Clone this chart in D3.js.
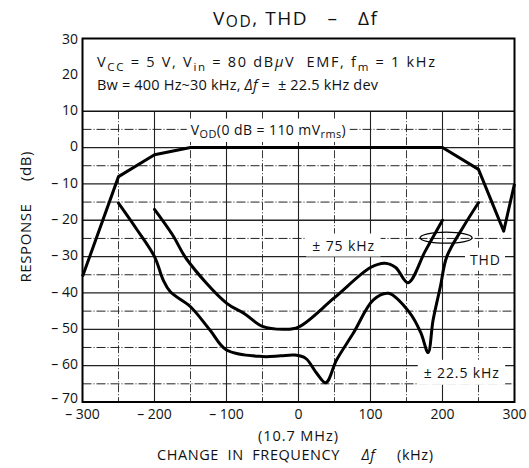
<!DOCTYPE html>
<html><head><meta charset="utf-8">
<script src="https://cdn.jsdelivr.net/npm/d3@7"></script>
<style>body{margin:0;background:#fff}svg{display:block}text{font-family:"Open Sans","Noto Sans",sans-serif;fill:#111}</style>
</head><body><div id="chart"></div>
<script>
// ---- data ----
const xTicks = [-300, -200, -100, 0, 100, 200, 300];
const yTicks = [30, 20, 10, 0, -10, -20, -30, -40, -50, -60, -70];
const vodX = [-300, -250, -200, -150, -100, 0, 100, 200, 250, 285, 300];
const vodY = [-35.5, -8, -2, 0, 0, 0, 0, 0, -6, -23, -10];
const thd75X = [-200, -175, -155, -100, -75, -50, -20, 0, 50, 100, 120, 135, 152, 176, 200];
const thd75Y = [-17, -24, -30.8, -42.8, -45.7, -49.2, -50, -49.4, -41.3, -33, -31.8, -33, -37.2, -28.5, -20];
const thd22X = [-250, -225, -200, -188, -178, -150, -123, -100, -50, -25, -5, 10, 25, 38, 53, 76, 104, 125, 155, 170, 180, 187, 197, 206, 229, 250];
const thd22Y = [-15.3, -22.4, -30, -36.4, -39.7, -43.8, -50.2, -55.7, -57.5, -57.3, -57.1, -58, -62, -64.7, -58.4, -51.1, -41.9, -40.1, -45.6, -51, -56.4, -47.4, -38.3, -30, -21.8, -15.2];

// ---- layout ----
const W = 529, H = 468;
const L = 82.5, R = 514.5, T = 38.5, B = 402;
const svg = d3.select("#chart").append("svg").attr("width", W).attr("height", H);
const x = d3.scaleLinear().domain([-300, 300]).range([L, R]);
const y = d3.scaleLinear().domain([-70, 30]).range([B, T]);

// grid
const g = svg.append("g");
d3.range(-250, 300, 50).forEach(v => {
  g.append("line").attr("x1", x(v)).attr("x2", x(v)).attr("y1", y(10)).attr("y2", y(-70))
    .attr("stroke", "#222").attr("stroke-width", v % 100 === 0 ? 1.1 : 0.9)
    .attr("stroke-dasharray", v % 100 === 0 ? null : "8,2,1,2");
});
d3.range(-65, 10, 5).forEach(v => {
  g.append("line").attr("x1", L).attr("x2", R).attr("y1", y(v)).attr("y2", y(v))
    .attr("stroke", "#222").attr("stroke-width", v % 10 === 0 ? 1.3 : 1)
    .attr("stroke-dasharray", v % 10 === 0 ? null : "9,2,1,2");
});
g.append("line").attr("x1", L).attr("x2", R).attr("y1", y(10)).attr("y2", y(10)).attr("stroke", "#111").attr("stroke-width", 1.6);

// annotation labels with white backgrounds
const ann = svg.append("g");
function label(parts, cx, cy, size, len) {
  const t = ann.append("text").attr("x", cx).attr("y", cy).attr("font-size", size)
    .attr("text-anchor", "middle").attr("dominant-baseline", "middle");
  if (len) t.attr("textLength", len).attr("lengthAdjust", "spacing");
  parts.forEach(p => {
    const ts = t.append("tspan").text(p.t);
    if (p.sub) ts.attr("font-size", size * 0.78).attr("dy", size * 0.3);
    if (p.up) ts.attr("dy", -size * 0.3);
  });
  return t;
}
function bg(t, px, py) {
  const b = t.node().getBBox();
  ann.insert("rect", "text").attr("x", b.x - px).attr("y", b.y - py)
    .attr("width", b.width + 2 * px).attr("height", b.height + 2 * py).attr("fill", "#fff");
}
const vodL = label([{t: "V"}, {t: "OD", sub: 1}, {t: "(0 dB = 110 mV", up: 1}, {t: "rms", sub: 1}, {t: ")", up: 1}], x(-42), y(4.6), 14, 155);
bg(vodL, 4, 1);
const l75 = label([{t: "± 75 kHz"}], x(62), y(-27.3), 14, 62);
bg(l75, 6, 2);
const lthd = label([{t: "THD"}], x(259), y(-31.2), 14, 30);
bg(lthd, 5, 2);
const l22 = label([{t: "± 22.5 kHz"}], x(226), y(-62.3), 14, 75);
bg(l22, 6, 3);

// curves
const line = d3.line().x(d => x(d[0])).y(d => y(d[1]));
svg.append("path").attr("d", line(d3.zip(vodX, vodY)))
  .attr("fill", "none").attr("stroke", "#000").attr("stroke-width", 3).attr("stroke-linejoin", "round");
const smooth = d3.line().x(d => x(d[0])).y(d => y(d[1])).curve(d3.curveCatmullRom.alpha(0.5));
[[thd75X, thd75Y], [thd22X, thd22Y]].forEach(([xs, ys]) => {
  svg.append("path").attr("d", smooth(d3.zip(xs, ys)))
    .attr("fill", "none").attr("stroke", "#000").attr("stroke-width", 3).attr("stroke-linejoin", "round").attr("stroke-linecap", "round");
});
// THD ellipse
svg.append("ellipse").attr("cx", x(205)).attr("cy", y(-24.8)).attr("rx", 26).attr("ry", 5.5)
  .attr("fill", "none").attr("stroke", "#000").attr("stroke-width", 1.3);

// frame
svg.append("rect").attr("x", L).attr("y", T).attr("width", R - L).attr("height", B - T)
  .attr("fill", "none").attr("stroke", "#000").attr("stroke-width", 2);

// box text
const bt1 = svg.append("text").attr("x", 97).attr("y", 67).attr("font-size", 14.5)
  .attr("textLength", 338).attr("lengthAdjust", "spacing").attr("xml:space", "preserve");
[["V"], ["CC", 1], [" = 5 V, V"], ["in", 1], [" = 80 dB"], ["μ", 2], ["V  EMF, f"], ["m", 1], [" = 1 kHz"]].forEach(([s, k]) => {
  const ts = bt1.append("tspan").text(s);
  if (k === 1) ts.attr("font-size", 11.5).attr("baseline-shift", -3.5);
  if (k === 2) ts.attr("font-style", "italic");
});
const bt2 = svg.append("text").attr("x", 97).attr("y", 90).attr("font-size", 14.5)
  .attr("textLength", 281).attr("lengthAdjust", "spacing").attr("xml:space", "preserve");
bt2.append("tspan").text("Bw = 400 Hz~30 kHz, ");
bt2.append("tspan").text("Δf").attr("font-style", "italic");
bt2.append("tspan").text(" =  ± 22.5 kHz dev");

// axes tick labels
const fmt = v => v < 0 ? "– " + Math.abs(v) : String(v);
svg.selectAll(".yt").data(yTicks).enter().append("text")
  .attr("x", 78).attr("y", d => y(d) + (d === 30 ? 2 : d === -70 ? -3 : 0)).attr("text-anchor", "end").attr("dominant-baseline", "middle")
  .attr("font-size", 14).text(fmt);
svg.selectAll(".xt").data(xTicks).enter().append("text")
  .attr("x", d => x(d)).attr("y", 415)
  .attr("text-anchor", "middle").attr("dominant-baseline", "middle")
  .attr("font-size", 14).text(fmt);

// title
const tt = svg.append("text").attr("x", 213).attr("y", 25).attr("font-size", 19)
  .attr("textLength", 164).attr("lengthAdjust", "spacing").attr("xml:space", "preserve");
tt.append("tspan").text("V");
tt.append("tspan").text("OD").attr("font-size", 15.5).attr("baseline-shift", -2);
tt.append("tspan").text(", THD   –   Δf");

// axis titles
svg.append("text").attr("x", 298).attr("y", 437.5).attr("text-anchor", "middle").attr("dominant-baseline", "middle")
  .attr("font-size", 14.5).attr("textLength", 80).attr("lengthAdjust", "spacing").text("(10.7 MHz)");
const xl = svg.append("text").attr("x", 157).attr("y", 456).attr("dominant-baseline", "middle")
  .attr("font-size", 14.5).attr("xml:space", "preserve").attr("textLength", 276).attr("lengthAdjust", "spacing");
xl.append("tspan").text("CHANGE  IN  FREQUENCY     ");
xl.append("tspan").text("Δf").attr("font-style", "italic");
xl.append("tspan").text("     (kHz)");
svg.append("text").attr("transform", "translate(27,217) rotate(-90)").attr("text-anchor", "middle")
  .attr("dominant-baseline", "middle").attr("font-size", 15).attr("xml:space", "preserve")
  .attr("textLength", 131).attr("lengthAdjust", "spacing").text("RESPONSE     (dB)");
</script></body></html>
